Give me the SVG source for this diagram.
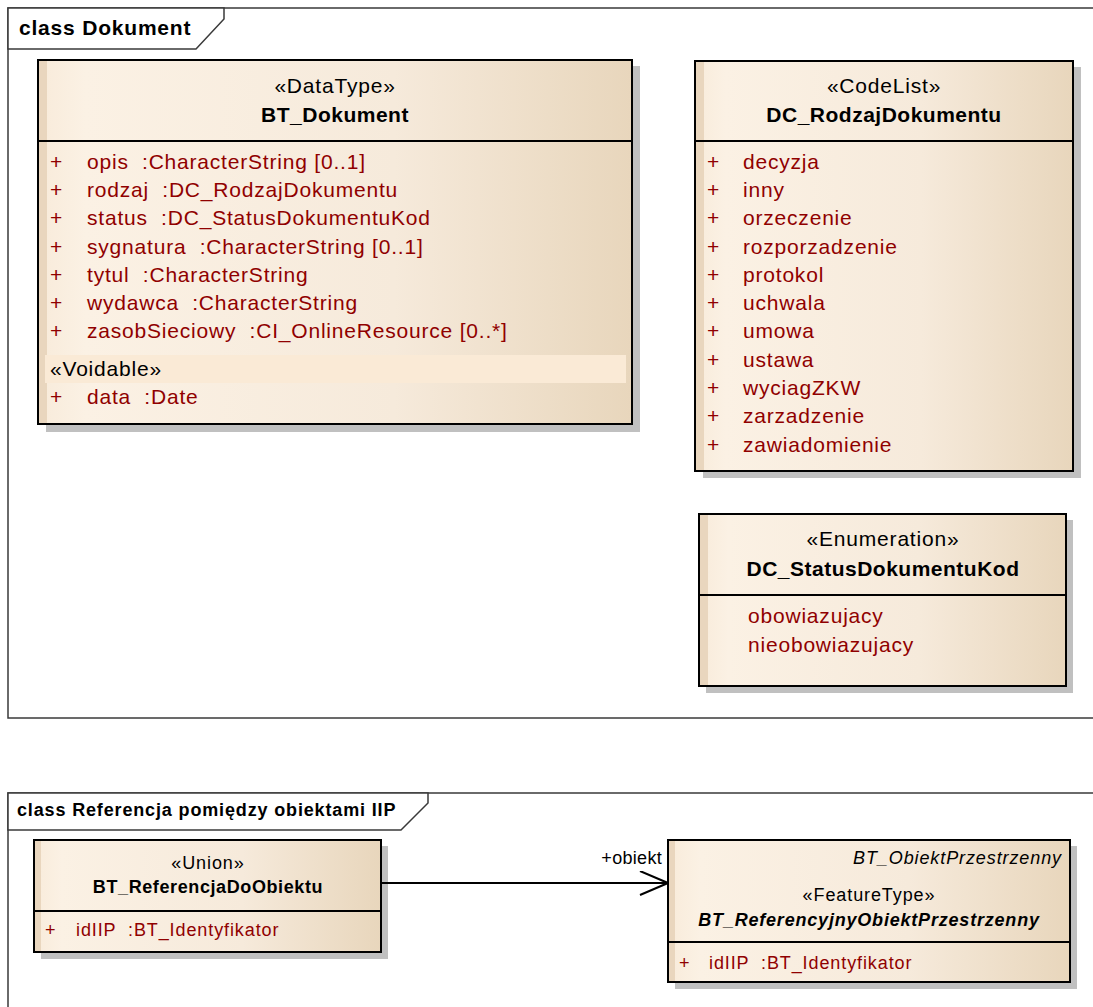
<svg xmlns="http://www.w3.org/2000/svg" width="1093" height="1007" viewBox="0 0 1093 1007">
<defs>
<linearGradient id="fill" x1="0" y1="0" x2="1" y2="0">
<stop offset="0" stop-color="#F8EBDA"/>
<stop offset="0.08" stop-color="#FBF1E4"/>
<stop offset="0.6" stop-color="#F6EADB"/>
<stop offset="1" stop-color="#E8D6BC"/>
</linearGradient>
<marker id="open" markerWidth="30" markerHeight="30" refX="29" refY="12" orient="auto" markerUnits="userSpaceOnUse">
<path d="M1,0 L29,12 L1,24" fill="none" stroke="#000" stroke-width="2"/>
</marker>
<style>
.frame{fill:none;stroke:#3a3a3a;stroke-width:1.5}
.tab{fill:#fff;stroke:#3a3a3a;stroke-width:1.5}
.shadow{fill:#C0C0C0}
.box{fill:url(#fill);stroke:#000;stroke-width:2}
.stripe{fill:#E9D6BE}
.sep{stroke:#000;stroke-width:2}
.t{font-family:"Liberation Sans",Arial,sans-serif;fill:#000;white-space:pre}
.b{font-weight:bold}
.big{font-size:21px;letter-spacing:0.8px}
.small{font-size:18px;letter-spacing:0.9px}
.attr{fill:#900000}
.mid{text-anchor:middle}
.end{text-anchor:end}
.it{font-style:italic}
.void{fill:#FAEAD6}
.conn{stroke:#000;stroke-width:2;fill:none}
</style>
</defs>

<g id="frame-dokument">
<rect class="frame" x="8" y="8" width="1100" height="710"/>
<path class="tab" d="M8,8 L224,8 L224,19 L196,49 L8,49 Z"/>
<text class="t b big" x="19" y="35">class Dokument</text>
</g>

<g id="BT_Dokument">
<rect class="shadow" x="46" y="66" width="594" height="366"/>
<rect class="box" x="38" y="60" width="594" height="364"/>
<rect class="stripe" x="39" y="61" width="8" height="362"/>
<line class="sep" x1="38" y1="141" x2="632" y2="141"/>
<text class="t big mid" x="335" y="93">«DataType»</text>
<text class="t b big mid" x="335" y="122" style="letter-spacing:0.5px">BT_Dokument</text>
<g class="t big attr">
<text x="50" y="169">+</text><text x="87" y="169" xml:space="preserve">opis  :CharacterString [0..1]</text>
<text x="50" y="197">+</text><text x="87" y="197" xml:space="preserve">rodzaj  :DC_RodzajDokumentu</text>
<text x="50" y="225">+</text><text x="87" y="225" xml:space="preserve">status  :DC_StatusDokumentuKod</text>
<text x="50" y="254">+</text><text x="87" y="254" xml:space="preserve">sygnatura  :CharacterString [0..1]</text>
<text x="50" y="282">+</text><text x="87" y="282" xml:space="preserve">tytul  :CharacterString</text>
<text x="50" y="310">+</text><text x="87" y="310" xml:space="preserve">wydawca  :CharacterString</text>
<text x="50" y="338">+</text><text x="87" y="338" xml:space="preserve">zasobSieciowy  :CI_OnlineResource [0..*]</text>
</g>
<rect class="void" x="45" y="355" width="581" height="28"/>
<text class="t big" x="50" y="376">«Voidable»</text>
<g class="t big attr">
<text x="50" y="404">+</text><text x="87" y="404" xml:space="preserve">data  :Date</text>
</g>
</g>

<g id="DC_RodzajDokumentu">
<rect class="shadow" x="703" y="67" width="378" height="411"/>
<rect class="box" x="695" y="61" width="378" height="410"/>
<rect class="stripe" x="696" y="62" width="8" height="408"/>
<line class="sep" x1="695" y1="141" x2="1073" y2="141"/>
<text class="t big mid" x="884" y="93">«CodeList»</text>
<text class="t b big mid" x="884" y="122" style="letter-spacing:0.5px">DC_RodzajDokumentu</text>
<g class="t big attr">
<text x="707" y="169">+</text><text x="743" y="169">decyzja</text>
<text x="707" y="197">+</text><text x="743" y="197">inny</text>
<text x="707" y="225">+</text><text x="743" y="225">orzeczenie</text>
<text x="707" y="254">+</text><text x="743" y="254">rozporzadzenie</text>
<text x="707" y="282">+</text><text x="743" y="282">protokol</text>
<text x="707" y="310">+</text><text x="743" y="310">uchwala</text>
<text x="707" y="338">+</text><text x="743" y="338">umowa</text>
<text x="707" y="367">+</text><text x="743" y="367">ustawa</text>
<text x="707" y="395">+</text><text x="743" y="395">wyciagZKW</text>
<text x="707" y="423">+</text><text x="743" y="423">zarzadzenie</text>
<text x="707" y="452">+</text><text x="743" y="452">zawiadomienie</text>
</g>
</g>

<g id="DC_StatusDokumentuKod">
<rect class="shadow" x="706" y="520" width="367" height="173"/>
<rect class="box" x="699" y="514" width="367" height="172"/>
<rect class="stripe" x="700" y="515" width="8" height="170"/>
<line class="sep" x1="699" y1="595" x2="1066" y2="595"/>
<text class="t big mid" x="883" y="546">«Enumeration»</text>
<text class="t b big mid" x="883" y="576" style="letter-spacing:0.5px">DC_StatusDokumentuKod</text>
<g class="t big attr">
<text x="748" y="623">obowiazujacy</text>
<text x="748" y="652">nieobowiazujacy</text>
</g>
</g>

<g id="frame-referencja">
<rect class="frame" x="8" y="793" width="1100" height="230"/>
<path class="tab" d="M8,793 L428,793 L428,803 L401,830 L8,830 Z"/>
<text class="t b small" x="17" y="816" style="letter-spacing:0.85px">class Referencja pomiędzy obiektami IIP</text>
</g>

<g id="BT_ReferencjaDoObiektu">
<rect class="shadow" x="41" y="846" width="347" height="113"/>
<rect class="box" x="34" y="840" width="347" height="112"/>
<rect class="stripe" x="35" y="841" width="6" height="110"/>
<line class="sep" x1="34" y1="911" x2="381" y2="911"/>
<text class="t small mid" x="208" y="869">«Union»</text>
<text class="t b small mid" x="208" y="893" style="letter-spacing:0.6px">BT_ReferencjaDoObiektu</text>
<g class="t small attr">
<text x="45" y="936">+</text><text x="76" y="936" xml:space="preserve">idIIP  :BT_Identyfikator</text>
</g>
</g>

<g id="BT_ReferencyjnyObiektPrzestrzenny">
<rect class="shadow" x="675" y="846" width="402" height="143"/>
<rect class="box" x="668" y="840" width="402" height="142"/>
<rect class="stripe" x="669" y="841" width="6" height="140"/>
<line class="sep" x1="668" y1="942" x2="1070" y2="942"/>
<text class="t small it end" x="1062" y="864">BT_ObiektPrzestrzenny</text>
<text class="t small mid" x="869" y="901">«FeatureType»</text>
<text class="t b it small mid" x="869" y="926" style="letter-spacing:0.8px">BT_ReferencyjnyObiektPrzestrzenny</text>
<g class="t small attr">
<text x="679" y="969">+</text><text x="709" y="969" xml:space="preserve">idIIP  :BT_Identyfikator</text>
</g>
</g>

<g id="connectors">
<line class="conn" x1="382" y1="883" x2="668" y2="883" marker-end="url(#open)"/>
<text class="t small end" x="662" y="864" style="letter-spacing:0.3px">+obiekt</text>
</g>
</svg>
